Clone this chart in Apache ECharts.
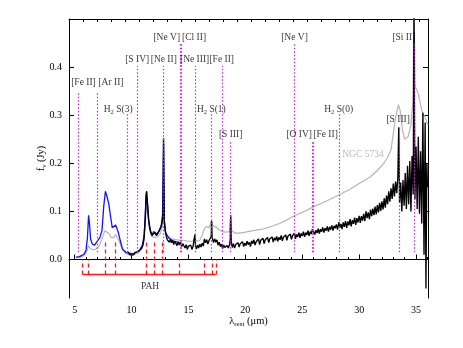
<!DOCTYPE html>
<html>
<head>
<meta charset="utf-8">
<script src="https://cdn.jsdelivr.net/npm/echarts@6.0.0/dist/echarts.min.js"></script>
<style>
html, body { margin: 0; padding: 0; background: #fff; }
#chart { width: 463px; height: 348px; }
</style>
</head>
<body>
<div id="chart"></div>
<script>
// spectrum of the target (black), short-wavelength part (blue), template NGC 5734 (gray)
let blackSpec = [
  [9.7,0.016],[9.8,0.011],[9.9,0.014],[10.0,0.009],[10.1,0.013],[10.2,0.010],[10.3,0.015],[10.4,0.011],
  [10.5,0.016],[10.6,0.013],[10.7,0.019],[10.8,0.017],[10.9,0.024],[11.0,0.030],[11.1,0.045],[11.2,0.085],
  [11.27,0.135],[11.33,0.142],[11.4,0.118],[11.5,0.085],[11.6,0.066],[11.7,0.055],[11.8,0.050],[11.9,0.054],
  [12.0,0.056],[12.1,0.052],[12.2,0.050],[12.3,0.054],[12.4,0.058],[12.5,0.062],[12.6,0.068],[12.7,0.080],
  [12.76,0.095],[12.81,0.252],[12.86,0.085],[12.95,0.060],[13.05,0.048],[13.15,0.041],
  [13.2,0.044],[13.3,0.036],[13.4,0.041],[13.5,0.035],[13.6,0.040],[13.7,0.031],[13.8,0.038],[13.9,0.034],
  [14.0,0.029],[14.1,0.037],[14.2,0.030],[14.3,0.036],[14.4,0.027],[14.5,0.033],[14.6,0.029],[14.7,0.024],
  [14.8,0.031],[14.9,0.021],[15.0,0.028],[15.1,0.024],[15.2,0.030],[15.3,0.021],[15.4,0.027],[15.5,0.025],
  [15.56,0.052],[15.62,0.028],[15.7,0.022],[15.8,0.030],[15.9,0.024],[16.0,0.032],[16.1,0.026],[16.2,0.034],
  [16.3,0.028],[16.4,0.043],[16.5,0.035],[16.6,0.041],[16.7,0.032],[16.8,0.039],[16.9,0.035],[17.0,0.048],
  [17.03,0.080],[17.08,0.046],[17.2,0.035],[17.3,0.043],[17.4,0.036],[17.5,0.041],[17.6,0.030],[17.7,0.036],
  [17.8,0.027],[17.9,0.032],[18.0,0.023],[18.1,0.030],[18.2,0.025],[18.3,0.021],[18.4,0.029],[18.5,0.024],
  [18.6,0.030],[18.67,0.042],[18.71,0.092],[18.76,0.037],[18.85,0.025],[18.95,0.033],[19.05,0.024],[19.15,0.031],
  [19.25,0.027],[19.35,0.035],[19.45,0.026],[19.55,0.033],[19.65,0.030],[19.75,0.037],[19.85,0.027],[19.95,0.034],
  [20.05,0.029],[20.15,0.038],[20.25,0.031],[20.35,0.036],[20.45,0.027],[20.55,0.039],[20.65,0.033],[20.75,0.041],
  [20.85,0.030],[20.95,0.037],[21.05,0.034],[21.15,0.043],[21.25,0.031],[21.35,0.040],[21.45,0.036],[21.55,0.044],
  [21.65,0.033],[21.75,0.041],[21.85,0.037],[21.95,0.046],[22.05,0.035],[22.15,0.043],[22.25,0.039],[22.35,0.047],
  [22.45,0.036],[22.55,0.045],[22.65,0.040],[22.75,0.048],[22.85,0.038],[22.95,0.046],[23.05,0.041],[23.15,0.050],
  [23.25,0.039],[23.35,0.047],[23.45,0.043],[23.55,0.051],[23.65,0.040],[23.75,0.049],[23.85,0.045],[23.95,0.053],
  [24.05,0.042],[24.15,0.050],[24.25,0.046],[24.32,0.055],[24.4,0.043],[24.5,0.052],[24.6,0.047],[24.7,0.056],
  [24.8,0.045],[24.9,0.054],[25.0,0.049],[25.1,0.058],[25.2,0.047],[25.3,0.056],[25.4,0.051],[25.5,0.060],
  [25.6,0.049],[25.7,0.058],[25.8,0.053],[25.89,0.063],[25.99,0.066],[26.1,0.052],[26.2,0.061],[26.3,0.055],
  [26.4,0.064],[26.5,0.054],[26.6,0.063],[26.7,0.058],[26.8,0.067],[26.9,0.056],[27.0,0.065],[27.1,0.060],
  [27.2,0.069],[27.3,0.058],[27.4,0.068],[27.5,0.062],[27.6,0.071],[27.7,0.060],[27.8,0.070],[27.9,0.065],
  [28.0,0.073],[28.1,0.062],[28.22,0.078],[28.3,0.066],[28.4,0.074],[28.5,0.063],[28.6,0.077],[28.7,0.068],
  [28.8,0.080],[28.9,0.066],[29.0,0.079],[29.1,0.071],[29.2,0.084],[29.3,0.069],[29.4,0.082],[29.5,0.074],
  [29.6,0.087],[29.7,0.072],[29.8,0.086],[29.9,0.077],[30.0,0.091],[30.1,0.076],[30.2,0.090],[30.3,0.081],
  [30.4,0.095],[30.5,0.080],[30.6,0.100],[30.7,0.086],[30.8,0.098],[30.9,0.084],[31.0,0.104],[31.1,0.090],
  [31.2,0.106],[31.3,0.092],[31.4,0.110],[31.5,0.094],[31.6,0.113],[31.7,0.098],[31.8,0.118],[31.9,0.101],
  [32.0,0.121],[32.1,0.104],[32.2,0.127],[32.3,0.108],[32.4,0.133],[32.5,0.115],[32.6,0.142],[32.7,0.120],
  [32.8,0.148],[32.9,0.126],[33.0,0.158],[33.1,0.131],[33.2,0.162],[33.3,0.138],[33.4,0.170],[33.48,0.275],
  [33.55,0.118],[33.65,0.160],[33.75,0.100],[33.85,0.165],[33.95,0.112],[34.05,0.180],[34.15,0.105],[34.25,0.195],
  [34.35,0.115],[34.45,0.205],[34.55,0.100],[34.65,0.215],[34.75,0.135],[34.82,0.52],[34.9,0.125],[35.0,0.235],
  [35.1,0.105],[35.2,0.255],[35.3,0.095],[35.4,0.225],[35.5,0.075],[35.6,0.305],[35.7,0.010],[35.8,0.285],
  [35.87,-0.060],[35.95,0.200],[36.0,0.150]
];

let blueSpec = [
  [5.1,0.005],[5.4,0.006],[5.6,0.008],[5.85,0.012],[6.0,0.020],[6.12,0.045],[6.22,0.092],[6.3,0.075],
  [6.4,0.042],[6.55,0.032],[6.75,0.030],[6.99,0.038],[7.2,0.045],[7.4,0.060],[7.55,0.110],[7.7,0.142],
  [7.85,0.130],[8.0,0.115],[8.15,0.090],[8.3,0.066],[8.45,0.062],[8.6,0.072],[8.7,0.070],[8.85,0.055],
  [9.0,0.040],[9.2,0.022],[9.5,0.015],[9.8,0.013],[10.1,0.012],[10.4,0.015],[10.7,0.019],[10.95,0.030],
  [11.1,0.050],[11.2,0.090],[11.3,0.135],[11.4,0.112],[11.5,0.080],[11.65,0.060],[11.8,0.052],[11.95,0.058],
  [12.1,0.055],[12.25,0.053],[12.45,0.062],[12.6,0.070],[12.72,0.092],[12.81,0.240],[12.88,0.080],[13.0,0.055],
  [13.3,0.044],[13.7,0.038],[14.0,0.036],[14.3,0.034]
];

let graySpec = [
  [5.1,0.004],[5.4,0.004],[5.7,0.007],[5.95,0.012],[6.1,0.020],[6.22,0.029],[6.35,0.024],[6.6,0.020],
  [6.9,0.022],[7.2,0.030],[7.45,0.046],[7.65,0.060],[7.8,0.061],[8.0,0.054],[8.2,0.046],[8.4,0.045],
  [8.6,0.052],[8.75,0.048],[8.95,0.036],[9.2,0.020],[9.5,0.012],[9.8,0.009],[10.2,0.010],[10.6,0.014],
  [10.9,0.022],[11.1,0.040],[11.22,0.080],[11.3,0.118],[11.4,0.100],[11.55,0.065],[11.75,0.048],[12.0,0.046],
  [12.3,0.047],[12.55,0.055],[12.72,0.070],[12.81,0.140],[12.9,0.065],[13.1,0.050],[13.5,0.043],[14.0,0.041],
  [14.5,0.040],[15.0,0.038],[15.4,0.038],[15.56,0.046],[15.7,0.038],[16.0,0.040],[16.2,0.050],[16.4,0.064],
  [16.6,0.069],[16.8,0.066],[16.95,0.068],[17.03,0.080],[17.15,0.070],[17.4,0.068],[17.7,0.062],[17.95,0.058],
  [18.3,0.057],[18.6,0.058],[18.71,0.090],[18.8,0.060],[19.1,0.055],[19.5,0.055],[20.0,0.057],[20.7,0.060],
  [21.5,0.063],[22.2,0.068],[23.0,0.075],[23.7,0.083],[24.4,0.092],[25.2,0.100],[26.0,0.110],[27.0,0.120],
  [28.3,0.135],[29.2,0.146],[30.0,0.158],[31.0,0.172],[31.6,0.185],[32.1,0.198],[32.5,0.212],[32.8,0.228],
  [33.0,0.262],[33.2,0.295],[33.45,0.322],[33.6,0.310],[33.8,0.270],[34.0,0.250],[34.3,0.255],[34.55,0.280],
  [34.72,0.330],[34.82,0.520],[34.92,0.360],[35.2,0.345],[35.5,0.310],[35.8,0.295],[36.05,0.280]
];

// emission lines: rest wavelength and top of the dotted marker
let lineWaves = [5.34, 6.99, 9.66, 10.51, 12.81, 14.32, 14.37, 15.56, 17.03, 17.94, 18.71, 24.32, 25.89, 25.99, 28.22, 33.48, 34.82];
let lineTops = [0.350, 0.350, 0.302, 0.403, 0.403, 0.449, 0.449, 0.403, 0.302, 0.403, 0.246, 0.449, 0.246, 0.246, 0.302, 0.277, 0.449];
let lineBottom = 0.015;

// line labels (text, centre wavelength, centre flux)
let labelText = ["[Fe II]", "[Ar II]", "H2 S(3)", "[S IV]", "[Ne II]", "[Ne V]", "[Cl II]", "[Ne III]", "[Fe II]",
  "H2 S(1)", "[S III]", "[Ne V]", "[O IV]", "[Fe II]", "H2 S(0)", "[S III]", "[Si II]"];
let labelX = [5.77, 8.19, 8.82, 10.49, 12.83, 13.09, 15.49, 15.54, 17.92, 17.01, 18.71, 24.32, 24.73, 27.05, 28.2, 33.43, 33.93];
let labelY = [0.369, 0.369, 0.311, 0.415, 0.415, 0.461, 0.461, 0.415, 0.415, 0.311, 0.260, 0.461, 0.260, 0.260, 0.311, 0.292, 0.461];

// PAH features
let pahWaves = [5.7, 6.2, 7.7, 8.6, 11.3, 12.0, 12.7, 14.2, 16.4, 17.1, 17.4];
let pahTops = [0.0, 0.0, 0.041, 0.041, 0.041, 0.041, 0.041, 0.0, 0.0, 0.0, 0.0];
let pahBase = -0.031;

// ticks
let xMajor = [5, 10, 15, 20, 25, 30, 35];
let xMinor = [6, 7, 8, 9, 11, 12, 13, 14, 16, 17, 18, 19, 21, 22, 23, 24, 26, 27, 28, 29, 31, 32, 33, 34, 36];
let xTop = [5.74, 6.97, 8.2, 9.43, 10.66, 11.89, 13.12, 14.35, 15.58, 16.81, 18.04, 19.27, 20.5, 21.73,
  22.96, 24.19, 25.42, 26.65, 27.88, 29.11, 30.34, 31.57, 32.8, 34.03, 35.26];
let yMajor = [0, 0.1, 0.2, 0.3, 0.4];

const FONT = "'Liberation Serif', 'DejaVu Serif', serif";
const MAGENTA = "#cc22d8";

let chart = echarts.init(document.getElementById("chart"));

function richName(s) {
  if (s.indexOf("H2") === 0) {
    return "{n|H}{s|2}{n|" + s.slice(2) + "}";
  }
  return "{n|" + s + "}";
}

let emissionMarks = lineWaves.map((w, i) => [
  { coord: [w, lineBottom] },
  { coord: [w, lineTops[i]] },
]);
let pahMarks = pahWaves.map((w, i) => [
  { coord: [w, pahBase] },
  { coord: [w, pahTops[i]] },
]);
let bracket = [[{ coord: [pahWaves[0], pahBase] }, { coord: [pahWaves[pahWaves.length - 1], pahBase] }]];

let baseAxis = {
  type: "value",
  min: 4.5,
  max: 36.05,
  splitLine: { show: false },
};

let markerSeries = (name, style, data) => ({
  name: name,
  type: "line",
  data: [],
  z: 1,
  silent: true,
  markLine: {
    silent: true,
    symbol: ["none", "none"],
    label: { show: false },
    animation: false,
    lineStyle: style,
    emphasis: { disabled: true },
    data: data,
  },
});

let option = {
  animation: false,
  backgroundColor: "#fff",
  grid: { left: 69, right: 35, top: 19, bottom: 50 },
  xAxis: [
    Object.assign({}, baseAxis, {
      position: "bottom",
      axisLine: { show: true, lineStyle: { color: "#000", width: 1 } },
      axisTick: { show: true, inside: true, length: 5, customValues: xMajor, lineStyle: { color: "#000" } },
      axisLabel: { show: true, customValues: xMajor, color: "#000", fontFamily: FONT, fontSize: 10, margin: 7 },
      name: "{a|λ}{s|rest}{a| (μm)}",
      nameLocation: "middle",
      nameGap: 17,
      nameMoveOverlap: false,
      nameTextStyle: {
        rich: {
          a: { fontFamily: FONT, fontSize: 10.5, color: "#000", lineHeight: 13 },
          s: { fontFamily: FONT, fontSize: 7, color: "#000", lineHeight: 7, verticalAlign: "bottom" },
        },
      },
    }),
    Object.assign({}, baseAxis, {
      position: "bottom",
      axisLine: { show: false },
      axisTick: { show: true, inside: true, length: 2.5, customValues: xMinor, lineStyle: { color: "#000" } },
      axisLabel: { show: false },
    }),
    Object.assign({}, baseAxis, {
      position: "top",
      axisLine: { show: true, lineStyle: { color: "#000", width: 1 } },
      axisTick: { show: true, inside: true, length: 3, customValues: xTop, lineStyle: { color: "#000" } },
      axisLabel: { show: false },
    }),
  ],
  yAxis: [
    {
      type: "value",
      min: -0.08,
      max: 0.5,
      position: "left",
      splitLine: { show: false },
      axisLine: { show: true, lineStyle: { color: "#000", width: 1 } },
      axisTick: { show: true, inside: true, length: 5, customValues: yMajor, lineStyle: { color: "#000" } },
      axisLabel: {
        show: true,
        customValues: yMajor,
        formatter: (v) => v.toFixed(1),
        color: "#000",
        fontFamily: FONT,
        fontSize: 10,
        margin: 7,
      },
      name: "{a|f}{s|ν}{a| (Jy)}",
      nameLocation: "middle",
      nameGap: 21,
      nameRotate: 90,
      nameMoveOverlap: false,
      nameTextStyle: {
        rich: {
          a: { fontFamily: FONT, fontSize: 10.5, color: "#000", lineHeight: 13 },
          s: { fontFamily: FONT, fontSize: 7, color: "#000", lineHeight: 7, verticalAlign: "bottom" },
        },
      },
    },
    {
      type: "value",
      min: -0.08,
      max: 0.5,
      position: "right",
      splitLine: { show: false },
      axisLine: { show: true, lineStyle: { color: "#000", width: 1 } },
      axisTick: { show: true, inside: true, length: 5, customValues: yMajor, lineStyle: { color: "#000" } },
      axisLabel: { show: false },
    },
  ],
  series: [
    markerSeries("lines", { color: MAGENTA, width: 1.2, type: [1.5, 2] }, emissionMarks),
    markerSeries("pah", { color: "#ff1a1a", width: 1.3, type: [4, 3] }, pahMarks),
    markerSeries("bracket", { color: "#ff1a1a", width: 1.3, type: "solid" }, bracket),
    {
      name: "NGC 5734",
      type: "line",
      data: graySpec,
      showSymbol: false,
      z: 2,
      lineStyle: { color: "#b5b5b5", width: 1.2 },
    },
    {
      name: "short",
      type: "line",
      data: blueSpec,
      showSymbol: false,
      z: 3,
      lineStyle: { color: "#1414f0", width: 1.3 },
    },
    {
      name: "target",
      type: "line",
      data: blackSpec,
      showSymbol: false,
      z: 4,
      lineStyle: { color: "#000", width: 1.35 },
    },
    {
      name: "labels",
      type: "scatter",
      symbolSize: 0,
      z: 5,
      silent: true,
      data: labelText.map((t, i) => ({ name: t, value: [labelX[i], labelY[i]] })),
      label: {
        show: true,
        position: "inside",
        formatter: (p) => richName(p.name),
        rich: {
          n: { fontFamily: FONT, fontSize: 9.5, color: "#000", lineHeight: 12 },
          s: { fontFamily: FONT, fontSize: 6.5, color: "#000", lineHeight: 6, verticalAlign: "bottom" },
        },
      },
    },
    {
      name: "other labels",
      type: "scatter",
      symbolSize: 0,
      z: 5,
      silent: true,
      data: [
        { name: "NGC 5734", value: [30.33, 0.219], label: { color: "#a8a8a8" } },
        { name: "PAH", value: [11.63, -0.057], label: { color: "#000" } },
      ],
      label: {
        show: true,
        position: "inside",
        formatter: (p) => p.name,
        fontFamily: FONT,
        fontSize: 9.5,
      },
    },
  ],
};

chart.setOption(option);
</script>
</body>
</html>
